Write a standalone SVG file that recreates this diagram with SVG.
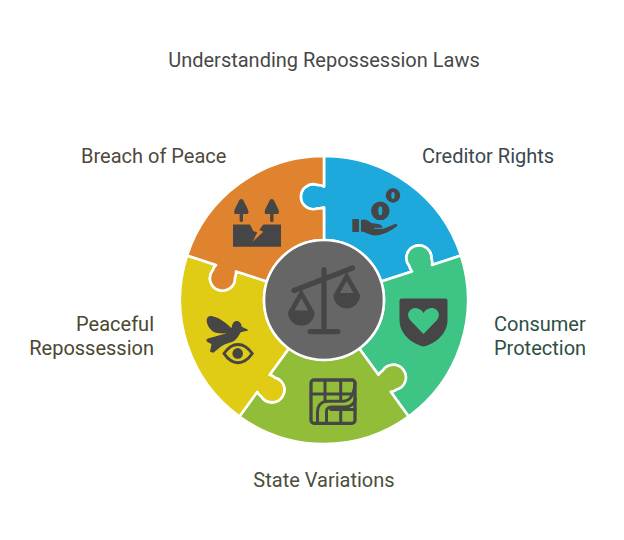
<svg xmlns="http://www.w3.org/2000/svg" width="624" height="540" viewBox="0 0 624 540">
<style>
text{font-family:Roboto,"Liberation Sans",sans-serif;font-size:20px}
.seg{stroke:#fff;stroke-width:2.6;stroke-linejoin:round}
.ic{fill:#464646}
.ln{fill:none;stroke:#464646;stroke-linecap:round;stroke-linejoin:round}
</style>
<defs>
<path id="wedge" d="M324,240V207.5Q321,208.6 318,208.3A12.5,12.5 0 1 1 318,185.1Q321,184.8 324,186.5V156A144,144 0 0 1 460.95,255.5L431.95,264.93Q432.63,261.55 431.42,258.79A12.5,12.5 0 1 0 409.36,265.96Q410,268.9 411.97,271.42L381.06,281.46A60,60 0 0 0 324,240Z"/>
</defs>
<rect width="624" height="540" fill="#fff"/>
<text id="title" x="324" y="67" text-anchor="middle" fill="#484848">Understanding Repossession Laws</text>
<g id="creditor-rights">
<use href="#wedge" class="seg" fill="#1EA9DC"/>
<rect class="ic" x="352.3" y="219" width="6.7" height="13" rx="0.6"/>
<path class="ic" d="M361,220C365,218.5 368,220 371,223L378,224C382,224.5 383,227 382,228.5L384,228.5L395,224C397.5,223.5 398,225.5 396.5,226.5C391,231 382,235.5 375,235.5C370,235.5 366,232 361,231.5Z"/>
<path d="M374,228.3H383" fill="none" stroke="#1EA9DC" stroke-width="1"/>
<circle class="ic" cx="380.3" cy="210.8" r="9.3"/><ellipse cx="380.3" cy="210.8" rx="2" ry="4.5" fill="#1EA9DC"/>
<circle class="ic" cx="393" cy="195.5" r="7.2"/><ellipse cx="393" cy="195.5" rx="1.7" ry="3.5" fill="#1EA9DC"/>
<text x="422" y="162.5" fill="#3A4750">Creditor Rights</text>
</g>
<g id="consumer-protection">
<use href="#wedge" class="seg" fill="#3EC586" transform="rotate(72 324 300)"/>
<path class="ic" d="M399.5,300.5Q399.5,298.5 401.5,298.5H445.5Q447.5,298.5 447.5,300.5V320C447.5,334 435,344 423.5,346.5C412,344 399.5,334 399.5,320Z"/>
<path fill="#3EC586" d="M423.5,334L410,320C405,313 411,307.5 416,308C420,308.5 422,310.5 423.5,313C425,310.5 427,308.5 431,308C436,307.5 442,313 437,320Z"/>
<text x="494" y="331" fill="#2F4F45">Consumer</text>
<text x="494" y="355" fill="#2F4F45">Protection</text>
</g>
<g id="state-variations">
<use href="#wedge" class="seg" fill="#92BD39" transform="rotate(144 324 300)"/>
<rect x="311" y="380" width="44" height="43.3" rx="3" class="ln" stroke-width="3.3"/>
<path class="ln" stroke-width="3" d="M325,380V401M340.7,380V401M340.7,408V423M311,394H351M331,409.5H355M317.5,423V412C317.5,405 322,401.2 328,401.2H343C350,401.2 354,395 355,383M326.5,423V411C326.5,408.5 329,407 332,407H345C350,407 354,404 355.5,399"/>
<text x="324" y="486.5" text-anchor="middle" fill="#4A4F3A">State Variations</text>
</g>
<g id="peaceful-repossession">
<use href="#wedge" class="seg" fill="#E0CB15" transform="rotate(216 324 300)"/>
<path class="ic" d="M206.7,320C207,316.5 209.5,315.5 212.5,316.3C219,318 224,321 231.5,328.3C232,323.5 234,321 236.7,321C239.5,321 241.5,323.5 241.7,326.7L247.5,329.5C248.3,330.5 247.5,331 246,331L240.7,332.3C238,337 236,341 230.5,342.5C225,344 222,345.5 218,349L213.3,352.7L210,351.7L211.5,344L207,341.7C206,340 206.5,339 208,338.5L226.7,333.3C221,333.5 216,333.5 213.3,331.7C209,328.5 206.5,324 206.7,320Z"/>
<path class="ln" stroke-width="3" d="M224,353.5C228,347.5 233,344.4 238,344.4C243,344.4 248,347.5 252.3,353.5C248,359.5 243,362.7 238,362.7C233,362.7 228,359.5 224,353.5Z"/>
<circle class="ic" cx="237.7" cy="353.4" r="5.3"/>
<text x="154" y="331" text-anchor="end" fill="#4A4830">Peaceful</text>
<text x="154" y="355" text-anchor="end" fill="#4A4830">Repossession</text>
</g>
<g id="breach-of-peace">
<use href="#wedge" class="seg" fill="#E0832F" transform="rotate(288 324 300)"/>
<path class="ic" d="M241.3,199C242.5,199 243.3,199.8 243.8,201C245.5,205 248,208.5 248.5,212C248.7,213.4 247.8,214 246.6,214H243V220.5Q243,222 241.3,222Q239.6,222 239.6,220.5V214H236C234.8,214 233.9,213.4 234.1,212C234.6,208.5 237.1,205 238.8,201C239.3,199.8 240.1,199 241.3,199Z"/>
<path class="ic" d="M271.8,199C273,199 273.8,199.8 274.3,201C276,205 278.5,208.5 279,212C279.2,213.4 278.3,214 277.1,214H273.5V220.5Q273.5,222 271.8,222Q270.1,222 270.1,220.5V214H266.5C265.3,214 264.4,213.4 264.6,212C265.1,208.5 267.6,205 269.3,201C269.8,199.8 270.6,199 271.8,199Z"/>
<path class="ic" d="M233,224.5H250L253.3,231L257.3,232.3L252.7,241.7L263.3,231.7L259.3,230L263.3,224.5H281V246.7H233Z"/>
<text x="81" y="162.5" fill="#4F483E">Breach of Peace</text>
</g>
<g id="center">
<circle cx="324" cy="300" r="60" fill="#666" stroke="#fff" stroke-width="2.6"/>
<path class="ln" stroke-width="5.2" d="M324,269.5V331M310,331.6H338M294,290.5L352.5,268"/>
<path class="ic" fill-rule="evenodd" d="M301.3,289L314.6,312.3A13.3,13.3 0 1 1 288,312.3ZM301.3,298L294.5,310.5H308Z"/>
<path class="ic" fill-rule="evenodd" d="M346.7,272L360,295A13.3,13.3 0 1 1 333.4,295ZM346.7,281L340,293H353.4Z"/>
</g>
</svg>
